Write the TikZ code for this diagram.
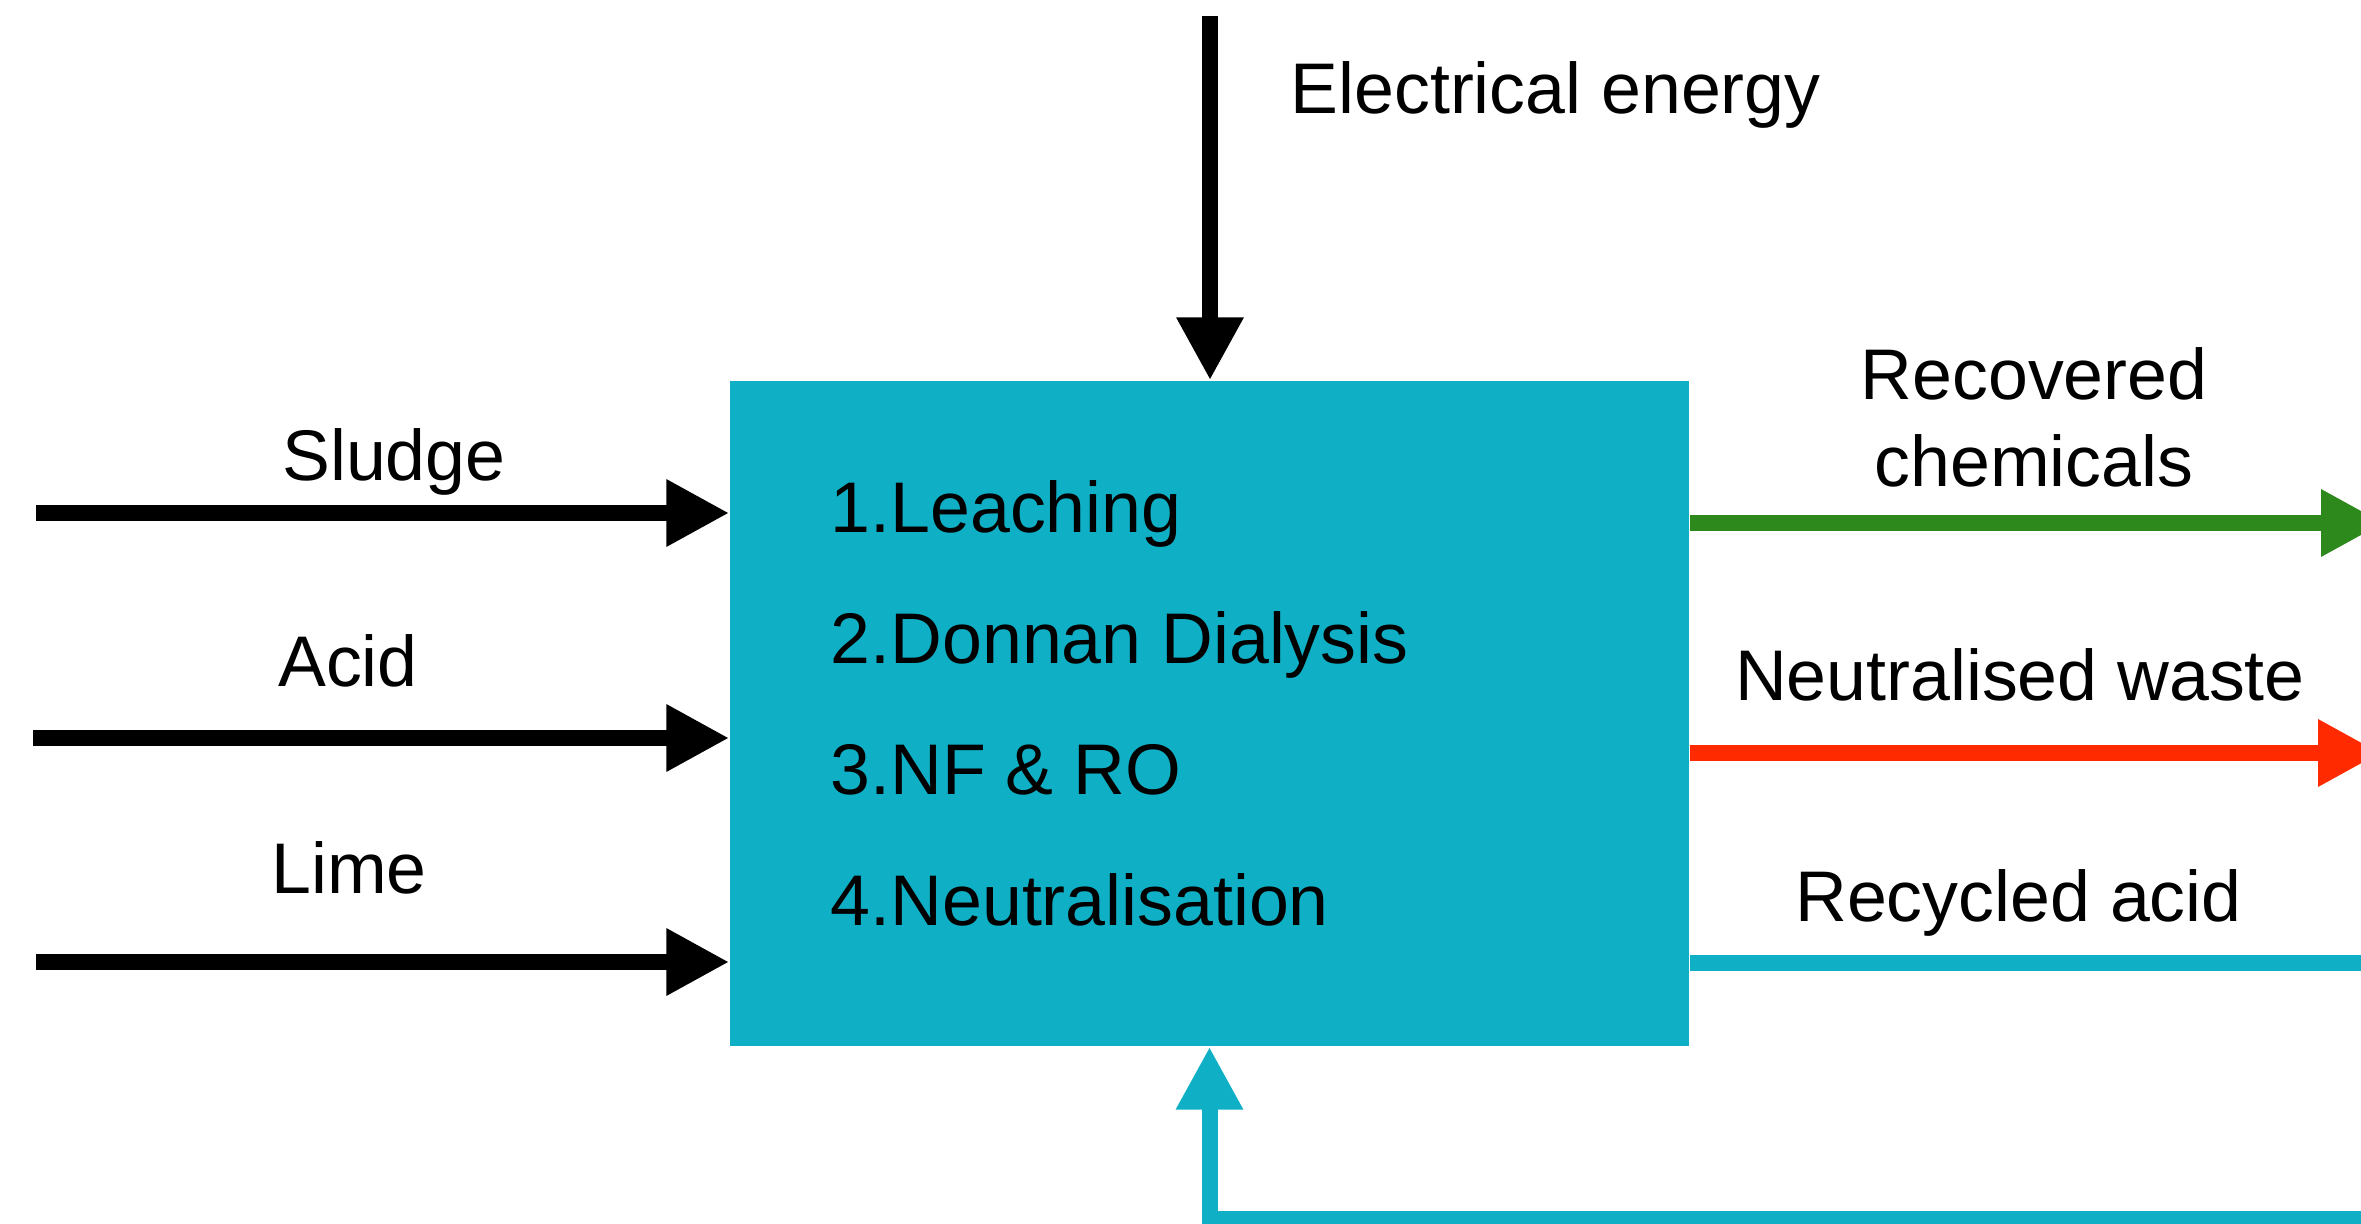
\documentclass[tikz,border=0pt]{standalone}
\usepackage{fontspec}
\setmainfont{Liberation Sans}
\usetikzlibrary{arrows.meta, positioning, calc}
\definecolor{procteal}{RGB}{15,176,198}
\definecolor{wastered}{RGB}{255,42,0}
\definecolor{chemgreen}{RGB}{46,137,29}

\begin{document}
\begin{tikzpicture}[flow/.style={line width=1.6mm, -{Triangle[length=6.3mm, width=6.3mm]}},
  txt/.style={font=\fontsize{20.4}{24.8}\selectfont, inner sep=0pt},
  process/.style={rectangle, fill=procteal, minimum width=9.59cm, minimum height=6.65cm, inner sep=0pt}]
  \clip (0,0) rectangle (23.61,-12.24);

  % treatment box and its steps
  \node[process] (box) at (12.095,-7.135) {};
  \node[txt, anchor=base west] (s1) at (8.30,-5.32) {1.Leaching};
  \node[txt, anchor=base west] (s2) at (8.30,-6.63) {2.Donnan Dialysis};
  \node[txt, anchor=base west] (s3) at (8.30,-7.94) {3.NF \& RO};
  \node[txt, anchor=base west] (s4) at (8.30,-9.25) {4.Neutralisation};

  % energy
  \coordinate (elec) at (12.10,-0.16);
  \draw[flow] (elec) -- (elec |- box.north);
  \node[txt, anchor=base west] (eleclbl) at (12.90,-1.14) {Electrical energy};

  % inputs
  \coordinate (sludge) at (0.36,-5.13);
  \coordinate (acid) at (0.33,-7.38);
  \coordinate (lime) at (0.36,-9.62);
  \draw[flow] (sludge) -- (sludge -| box.west);
  \draw[flow] (acid) -- (acid -| box.west);
  \draw[flow] (lime) -- (lime -| box.west);
  \node[txt, anchor=base] (sludgelbl) at (3.94,-4.80) {Sludge};
  \node[txt, anchor=base] (acidlbl) at (3.48,-6.86) {Acid};
  \node[txt, anchor=base] (limelbl) at (3.49,-8.93) {Lime};

  % outputs
  \coordinate (chemout) at (23.84,-5.23);
  \coordinate (wasteout) at (23.81,-7.53);
  \draw[flow, chemgreen] (box.east |- chemout) -- (chemout);
  \draw[flow, wastered] (box.east |- wasteout) -- (wasteout);
  \node[txt, anchor=north, align=center] (chemlbl) at (20.34,-3.47) {Recovered\\chemicals};
  \node[txt, anchor=base] (wastelbl) at (20.20,-7.00) {Neutralised waste};

  % acid recycle loop
  \coordinate (loopa) at (24.20,-9.63);
  \coordinate (loopb) at (24.20,-12.19);
  \draw[flow, procteal] (box.east |- loopa) -- (loopa) -- (loopb) -- (loopb -| box.south) -- (box.south);
  \node[txt, anchor=base] (acidrec) at (20.185,-9.21) {Recycled acid};
\end{tikzpicture}
\end{document}
